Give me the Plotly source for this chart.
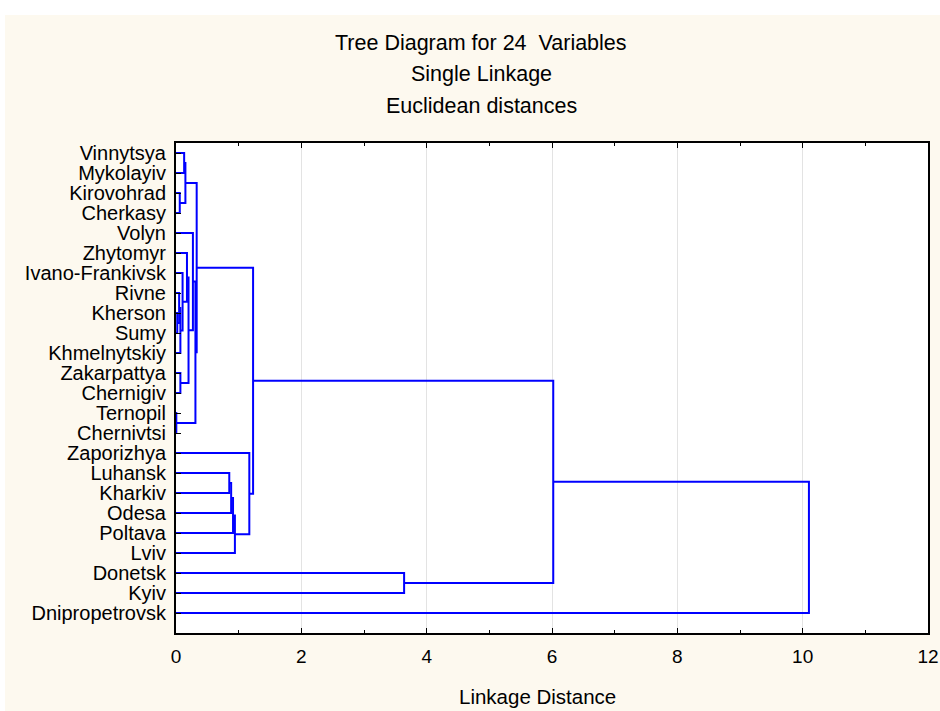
import plotly.graph_objects as go

labels = ["Vinnytsya", "Mykolayiv", "Kirovohrad", "Cherkasy", "Volyn", "Zhytomyr",
          "Ivano-Frankivsk", "Rivne", "Kherson", "Sumy", "Khmelnytskiy", "Zakarpattya",
          "Chernigiv", "Ternopil", "Chernivtsi", "Zaporizhya", "Luhansk", "Kharkiv",
          "Odesa", "Poltava", "Lviv", "Donetsk", "Kyiv", "Dnipropetrovsk"]

# merges: (child a, child b, linkage distance); leaves 0..23, new nodes 24..
merge_a = [0, 2, 24, 8, 7, 28, 6, 5, 11, 31, 4, 13, 34, 26, 16, 38, 39, 40, 15, 37, 21, 43, 45]
merge_b = [1, 3, 25, 9, 27, 10, 29, 30, 12, 32, 33, 14, 35, 36, 17, 18, 19, 20, 41, 42, 22, 44, 23]
merge_d = [0.13, 0.06, 0.15, 0.02, 0.05, 0.07, 0.105, 0.175, 0.07, 0.20, 0.27, 0.005,
           0.31, 0.33, 0.85, 0.88, 0.91, 0.94, 1.17, 1.23, 3.64, 6.02, 10.1]

n = len(labels)
node_x = {i: 0.0 for i in range(n)}
node_y = {i: float(i) for i in range(n)}
xs, ys = [], []
for k, (a, b, d) in enumerate(zip(merge_a, merge_b, merge_d)):
    xa, ya, xb, yb = node_x[a], node_y[a], node_x[b], node_y[b]
    xs += [xa, d, d, xb, None]
    ys += [ya, ya, yb, yb, None]
    node_x[n + k] = d
    node_y[n + k] = (ya + yb) / 2

L, R, T, B = 176, 12, 143, 78
PW = 940 - L - R
PH = 711 - T - B

fig = go.Figure()
fig.add_trace(go.Scatter(x=xs, y=ys, mode="lines",
                         line=dict(color="#0000FF", width=2), hoverinfo="skip",
                         showlegend=False))

font_main = "Arial, Liberation Sans, sans-serif"
fig.update_layout(
    width=940, height=711,
    margin=dict(l=L, r=R, t=T, b=B, autoexpand=False),
    paper_bgcolor="#FDF9EF",
    plot_bgcolor="white",
    font=dict(family=font_main, size=20, color="black"),
    showlegend=False,
)
fig.update_xaxes(range=[0, 12], dtick=2, tick0=0, showgrid=True, gridcolor="#E3E3E3",
                 gridwidth=1, zeroline=False, showline=True, linecolor="black",
                 linewidth=2, mirror="ticks", ticks="inside", ticklen=5,
                 tickcolor="black", ticklabelstandoff=5, automargin=False,
                 ticklabeloverflow="allow",
                 minor=dict(ticks="inside", dtick=1, ticklen=3, tickcolor="black",
                            showgrid=False),
                 tickfont=dict(size=19))
fig.update_yaxes(range=[24, -0.5], tickvals=list(range(n)), ticktext=labels,
                 showgrid=False, zeroline=False, showline=True, linecolor="black",
                 linewidth=2, mirror=True, ticks="inside", ticklen=5, automargin=False,
                 ticklabeloverflow="allow",
                 tickcolor="black", ticklabelstandoff=4, tickfont=dict(size=20))

titles = ["Tree Diagram for 24\u00a0 Variables", "Single Linkage", "Euclidean distances"]
title_py = [43, 74, 106]
for t, py in zip(titles, title_py):
    fig.add_annotation(text=t, xref="paper", yref="paper",
                       x=(481 - L) / PW, y=(711 - B - py) / PH,
                       xanchor="center", yanchor="middle", showarrow=False,
                       font=dict(size=21.5))
fig.add_annotation(text="Linkage Distance", xref="paper", yref="paper",
                   x=(537 - L) / PW, y=(711 - B - 696) / PH,
                   xanchor="center", yanchor="middle", showarrow=False,
                   font=dict(size=20.5))

# white border strip above and left of the cream panel
fig.add_shape(type="rect", xref="paper", yref="paper",
              x0=-L / PW, x1=(940 - L) / PW, y0=(PH + T - 15) / PH, y1=(PH + T) / PH,
              fillcolor="white", line=dict(width=0), layer="below")
fig.add_shape(type="rect", xref="paper", yref="paper",
              x0=-L / PW, x1=(5 - L) / PW, y0=-B / PH, y1=(PH + T) / PH,
              fillcolor="white", line=dict(width=0), layer="below")

fig.write_html("out.html")
